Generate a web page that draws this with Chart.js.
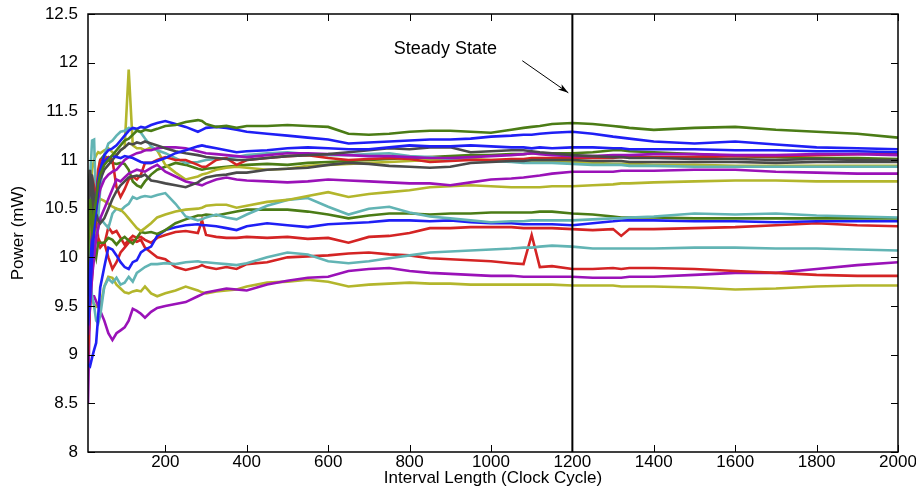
<!DOCTYPE html>
<html>
<head>
<meta charset="utf-8">
<script src="https://cdn.jsdelivr.net/npm/chart.js@4.4.1/dist/chart.umd.min.js"></script>
<style>
  html,body{margin:0;padding:0;background:#fff;}
  #wrap{width:916px;height:497px;position:relative;}
</style>
</head>
<body>
<div id="wrap"><canvas id="c" width="916" height="497"></canvas></div>
<script>
// ---- Data ----
const X = [10,15,20,25,30,35,40, 50,60,70,80,90,100,110,120,130,140,150, 165,180,200,225,250, 280,290,300, 325,350,375,400,
  450,500,550,600,650,700,750,800,850,900,950,1000,1050, 1080,1100,1120, 1150,1200,1250,1300,1320,1340,
  1400,1500,1600,1700,1800,1900,2000];

const G1 = [10.0,10.6,10.3,10.45,10.6,10.75,10.85, 10.95,11.0,11.05,11.1,11.15,11.2,11.22,11.26,11.3,11.29,11.31,
  11.3,11.32,11.35,11.36,11.39, 11.41,11.4,11.37, 11.34,11.35,11.33,11.35,
  11.35,11.36,11.35,11.34,11.27,11.26,11.27,11.29,11.30,11.30,11.29,11.28,11.31, 11.33,11.34,11.35,
  11.37,11.38,11.37,11.35,11.34,11.33, 11.31,11.33,11.34,11.31,11.29,11.27,11.23];
const B1 = [9.6,9.9,10.2,10.4,10.6,10.8,10.9, 11.05,11.1,11.12,11.15,11.2,11.25,11.3,11.33,11.32,11.34,11.33,
  11.36,11.38,11.40,11.37,11.34, 11.29,11.31,11.33, 11.34,11.33,11.31,11.29,
  11.27,11.25,11.23,11.21,11.17,11.18,11.19,11.20,11.21,11.21,11.22,11.24,11.25, 11.26,11.26,11.27,
  11.28,11.29,11.27,11.24,11.23,11.22, 11.19,11.17,11.19,11.16,11.13,11.12,11.11];
const B2 = [9.3,9.6,10.0,10.3,10.5,10.7,10.85, 10.98,11.02,11.04,11.03,11.02,11.04,11.03,11.02,11.0,10.98,10.97,
  10.97,10.99,11.02,11.07,11.10, 11.14,11.15,11.14, 11.12,11.10,11.08,11.09,
  11.10,11.12,11.13,11.12,11.11,11.11,11.13,11.15,11.14,11.14,11.15,11.14,11.13, 11.13,11.12,11.13,
  11.12,11.13,11.13,11.12,11.12,11.11, 11.11,11.11,11.10,11.10,11.09,11.09,11.08];
const DG1 = [10.2,10.9,10.6,10.3,10.5,10.7,10.8, 10.9,10.95,11.0,11.05,11.1,11.13,11.17,11.16,11.18,11.17,11.19,
  11.17,11.15,11.12,11.09,11.07, 11.05,11.04,11.03, 11.02,11.01,11.0,11.0,
  11.02,11.04,11.05,11.06,11.08,11.10,11.12,11.11,11.13,11.13,11.08,11.09,11.10, 11.10,11.09,11.08,
  11.07,11.05,11.04,11.03,11.03,11.02, 11.02,11.01,11.01,11.0,11.01,11.0,11.0];
const DG2 = [10.6,10.85,10.84,10.6,10.45,10.38,10.35, 10.4,10.5,10.6,10.68,10.74,10.78,10.82,10.83,10.84,10.83,10.85,
  10.79,10.78,10.76,10.74,10.72, 10.77,10.8,10.82, 10.84,10.85,10.87,10.87,
  10.9,10.91,10.92,10.95,10.97,10.96,10.94,10.93,10.92,10.93,10.97,10.98,10.99, 10.99,11.0,11.0,
  11.0,11.0,10.99,10.99,10.99,10.98, 10.98,10.98,10.98,10.97,10.98,10.98,10.98];
const P1 = [9.4,9.7,10.0,10.3,10.5,10.6,10.7, 10.8,10.85,10.88,10.9,10.95,11.0,11.03,11.05,11.07,11.08,11.1,
  11.1,11.12,11.13,11.13,11.12, 11.09,11.08,11.07, 11.06,11.05,11.04,11.03,
  11.05,11.07,11.07,11.06,11.05,11.04,11.04,11.03,11.02,11.02,11.03,11.04,11.05, 11.06,11.07,11.06,
  11.05,11.04,11.04,11.05,11.05,11.05, 11.06,11.06,11.05,11.05,11.06,11.06,11.05];
const P2 = [9.2,9.5,9.8,10.0,10.2,10.3,10.4, 10.5,10.6,10.7,10.8,10.78,10.82,10.86,10.88,10.9,10.89,10.88,
  10.92,10.95,10.88,10.83,10.78, 10.75,10.74,10.76, 10.8,10.82,10.8,10.79,
  10.78,10.77,10.78,10.80,10.79,10.78,10.77,10.76,10.76,10.74,10.77,10.80,10.81, 10.82,10.83,10.84,
  10.86,10.88,10.88,10.88,10.89,10.89, 10.89,10.90,10.90,10.88,10.87,10.86,10.86];
const R1 = [9.0,9.6,10.3,10.72,10.6,10.9,11.0, 11.0,11.03,11.0,10.72,10.62,10.7,10.8,10.83,10.80,10.85,10.97,
  10.97,11.0,11.03,11.0,11.0, 10.95,10.93,10.93, 11.0,11.02,10.95,11.0,
  11.02,11.04,11.05,11.02,11.0,11.01,11.02,11.01,10.98,10.99,11.0,11.0,11.01, 11.01,11.02,11.02,
  11.02,11.02,11.02,11.02,11.03,11.03, 11.03,11.03,11.04,11.04,11.05,11.06,11.07];
const C1 = [10.0,10.8,11.2,11.21,10.5,10.4,10.7, 11.05,11.17,11.2,11.25,11.29,11.3,11.33,11.32,11.31,11.28,11.22,
  11.14,11.1,11.07,11.02,10.97, 10.98,10.99,11.0, 11.01,11.02,11.03,11.05,
  11.07,11.08,11.06,11.05,11.05,11.06,11.07,11.04,11.03,11.01,11.0,10.99,10.98, 10.97,10.97,10.97,
  10.97,10.96,10.95,10.95,10.95,10.94, 10.94,10.93,10.93,10.93,10.93,10.93,10.93];
const O1 = [10.1,10.6,10.9,11.0,11.05,11.08,11.07, 11.1,11.12,11.08,11.05,11.1,11.13,11.93,11.15,11.12,11.12,11.1,
  11.13,11.1,10.95,10.87,10.8, 10.83,10.85,10.86, 10.9,10.92,10.93,10.92,
  10.90,10.91,10.94,10.95,10.96,10.97,10.98,10.99,11.0,11.0,11.01,11.0,11.0, 10.99,10.99,10.99,
  10.99,10.98,10.97,10.96,10.96,10.96, 10.95,10.95,10.94,10.94,10.94,10.94,10.94];
const G2 = [9.6,10.9,10.5,10.2,10.5,10.8,11.0, 11.05,11.0,10.97,10.96,10.97,10.96,10.9,10.78,10.74,10.72,10.78,
  10.85,10.9,10.93,10.97,10.95, 10.91,10.90,10.91, 10.92,10.93,10.94,10.95,
  10.96,10.95,10.97,10.98,10.99,11.0,11.01,11.02,11.03,11.04,11.05,11.05,11.06, 11.06,11.07,11.07,
  11.07,11.07,11.08,11.10,11.10,11.09, 11.08,11.06,11.04,11.03,11.02,11.02,11.01];
const O2 = [9.6,10.0,10.4,10.55,10.5,10.55,10.6, 10.58,10.55,10.52,10.5,10.49,10.45,10.4,10.35,10.3,10.27,10.3,
  10.35,10.41,10.44,10.47,10.49, 10.5,10.51,10.53, 10.54,10.54,10.51,10.53,
  10.57,10.59,10.63,10.67,10.62,10.65,10.67,10.69,10.72,10.73,10.74,10.73,10.72, 10.72,10.72,10.72,
  10.73,10.73,10.74,10.75,10.76,10.76, 10.77,10.78,10.79,10.79,10.78,10.78,10.78];
const C2 = [9.9,10.5,10.3,10.1,10.2,10.3,10.4, 10.35,10.3,10.45,10.5,10.48,10.52,10.55,10.62,10.6,10.62,10.63,
  10.62,10.64,10.66,10.55,10.42, 10.38,10.39,10.41, 10.44,10.41,10.39,10.44,
  10.53,10.59,10.61,10.52,10.44,10.50,10.52,10.46,10.42,10.40,10.38,10.36,10.37, 10.37,10.38,10.38,
  10.38,10.38,10.39,10.40,10.40,10.41, 10.42,10.45,10.44,10.45,10.43,10.42,10.41];
const G3 = [9.5,9.9,10.3,10.1,10.0,10.15,10.15, 10.15,10.2,10.18,10.13,10.18,10.21,10.17,10.14,10.2,10.26,10.25,
  10.26,10.24,10.28,10.35,10.39, 10.43,10.43,10.44, 10.43,10.45,10.47,10.49,
  10.49,10.49,10.47,10.44,10.40,10.43,10.45,10.45,10.44,10.45,10.45,10.46,10.46, 10.46,10.46,10.47,
  10.47,10.45,10.44,10.42,10.41,10.41, 10.41,10.40,10.40,10.40,10.40,10.40,10.40];
const B3 = [8.9,8.88,8.97,9.05,9.12,9.4,9.69, 9.9,10.1,10.08,10.02,9.95,9.9,9.88,9.95,9.97,10.05,10.08,
  10.11,10.22,10.28,10.31,10.33, 10.34,10.33,10.33, 10.32,10.3,10.28,10.32,
  10.35,10.33,10.31,10.34,10.35,10.36,10.38,10.38,10.37,10.38,10.36,10.35,10.35, 10.34,10.34,10.34,
  10.34,10.33,10.35,10.37,10.38,10.38, 10.38,10.37,10.37,10.36,10.37,10.37,10.37];
const R2 = [9.3,9.8,10.2,10.6,10.4,10.2,10.15, 10.13,10.31,10.25,10.27,10.2,10.13,10.18,10.22,10.2,10.21,10.18,
  10.15,10.2,10.23,10.26,10.27, 10.25,10.38,10.23, 10.21,10.2,10.2,10.21,
  10.2,10.21,10.19,10.2,10.15,10.21,10.22,10.25,10.3,10.3,10.31,10.31,10.31, 10.3,10.3,10.3,
  10.3,10.29,10.28,10.29,10.22,10.29, 10.29,10.30,10.31,10.33,10.35,10.33,10.32];
const C3 = [9.7,9.85,9.6,9.5,9.35,9.32,9.4, 9.7,9.78,9.74,9.79,9.72,9.74,9.8,9.75,9.84,9.87,9.9,
  9.93,9.93,9.94,9.93,9.95, 9.96,9.95,9.95, 9.94,9.93,9.92,9.94,
  10.0,10.05,10.03,9.96,9.94,9.96,9.99,10.02,10.05,10.06,10.07,10.08,10.09, 10.10,10.10,10.11,
  10.12,10.11,10.09,10.09,10.09,10.09, 10.09,10.10,10.10,10.09,10.09,10.08,10.07];
const R3 = [9.1,9.5,9.8,10.1,10.2,10.15,10.1, 10.15,10.0,9.88,9.95,10.05,10.1,10.15,10.18,10.16,10.18,10.1,
  10.05,10.0,9.98,9.9,9.87, 9.9,9.92,9.9, 9.88,9.9,9.88,9.93,
  9.95,10.0,10.01,10.02,10.04,10.05,10.03,10.02,9.99,9.98,9.97,9.96,9.94, 9.93,10.23,9.90,
  9.91,9.88,9.88,9.89,9.88,9.89, 9.89,9.88,9.86,9.84,9.82,9.81,9.81];
const P3 = [8.5,9.6,9.6,9.6,9.55,9.5,9.45, 9.35,9.22,9.15,9.22,9.25,9.28,9.35,9.47,9.45,9.42,9.38,
  9.44,9.48,9.5,9.52,9.54, 9.6,9.62,9.64, 9.66,9.68,9.67,9.66,
  9.72,9.76,9.79,9.80,9.86,9.88,9.89,9.86,9.84,9.83,9.82,9.81,9.81, 9.80,9.80,9.80,
  9.80,9.80,9.79,9.79,9.79,9.80, 9.80,9.82,9.84,9.84,9.88,9.92,9.95];
const O3 = [9.15,9.59,9.56,9.52,9.49,9.5,9.49, 9.7,9.8,9.79,9.72,9.68,9.64,9.63,9.65,9.66,9.65,9.7,
  9.63,9.6,9.63,9.66,9.7, 9.66,9.64,9.63, 9.65,9.66,9.67,9.7,
  9.74,9.75,9.77,9.75,9.7,9.72,9.73,9.74,9.73,9.73,9.72,9.72,9.72, 9.72,9.72,9.72,
  9.72,9.71,9.71,9.71,9.70,9.70, 9.70,9.69,9.67,9.68,9.70,9.71,9.71];

const X_TICKS = [200,400,600,800,1000,1200,1400,1600,1800,2000];
const Y_TICKS = [8,8.5,9,9.5,10,10.5,11,11.5,12,12.5];
const STEADY_X = 1200;
const NOTE_TEXT = 'Steady State';
const NOTE_POS = {x: 888, y: 12.14};
const ARROW_FROM = {x: 1077, y: 12.02};
const ARROW_TO = {x: 1190, y: 11.69};

// ---- Styles ----
const GREEN = '#4b7c16', BLUE = '#1f1ff5', PURPLE = '#9a12b8', RED = '#d42424',
      CYAN = '#62b4b4', OLIVE = '#b3b62c', GRAY = '#4a4a4a';
const SERIES = [
  ['G1', G1, GREEN], ['B1', B1, BLUE], ['B2', B2, BLUE], ['DG1', DG1, GRAY], ['DG2', DG2, GRAY],
  ['P1', P1, PURPLE], ['P2', P2, PURPLE], ['R1', R1, RED], ['C1', C1, CYAN], ['O1', O1, OLIVE],
  ['G2', G2, GREEN], ['O2', O2, OLIVE], ['C2', C2, CYAN], ['G3', G3, GREEN], ['B3', B3, BLUE],
  ['R2', R2, RED], ['C3', C3, CYAN], ['R3', R3, RED], ['P3', P3, PURPLE], ['O3', O3, OLIVE]
];
const FONT = '"Liberation Sans", Arial, Helvetica, sans-serif';

const datasets = SERIES.map(([name, ys, color]) => ({
  label: name,
  data: X.map((x, i) => ({x, y: ys[i]})),
  borderColor: color,
  backgroundColor: color,
  borderWidth: 2.6,
  pointRadius: 0,
  tension: 0,
  fill: false
}));

const framePlugin = {
  id: 'frame',
  afterDatasetsDraw(chart) {
    const {ctx, chartArea: {left, right, top, bottom}, scales: {x, y}} = chart;
    ctx.save();
    ctx.strokeStyle = '#000';
    // steady-state vertical line
    const vx = x.getPixelForValue(STEADY_X);
    ctx.lineWidth = 2;
    ctx.beginPath(); ctx.moveTo(vx, top); ctx.lineTo(vx, bottom); ctx.stroke();
    // frame
    ctx.lineWidth = 1.5;
    ctx.strokeRect(left, top, right - left, bottom - top);
    // inward ticks
    ctx.lineWidth = 1;
    const L = 7;
    ctx.beginPath();
    X_TICKS.forEach(v => {
      const px = Math.round(x.getPixelForValue(v)) + 0.5;
      ctx.moveTo(px, bottom); ctx.lineTo(px, bottom - L);
      ctx.moveTo(px, top); ctx.lineTo(px, top + L);
    });
    Y_TICKS.forEach(v => {
      const py = Math.round(y.getPixelForValue(v)) + 0.5;
      ctx.moveTo(left, py); ctx.lineTo(left + L, py);
      ctx.moveTo(right, py); ctx.lineTo(right - L, py);
    });
    ctx.stroke();
    // arrow
    const ax1 = x.getPixelForValue(ARROW_FROM.x), ay1 = y.getPixelForValue(ARROW_FROM.y);
    const ax2 = x.getPixelForValue(ARROW_TO.x), ay2 = y.getPixelForValue(ARROW_TO.y);
    ctx.lineWidth = 1;
    ctx.beginPath(); ctx.moveTo(ax1, ay1); ctx.lineTo(ax2, ay2); ctx.stroke();
    const ang = Math.atan2(ay2 - ay1, ax2 - ax1);
    const hl = 11, hw = 0.3;
    ctx.fillStyle = '#000';
    ctx.beginPath();
    ctx.moveTo(ax2, ay2);
    ctx.lineTo(ax2 - hl * Math.cos(ang - hw), ay2 - hl * Math.sin(ang - hw));
    ctx.lineTo(ax2 - hl * 0.7 * Math.cos(ang), ay2 - hl * 0.7 * Math.sin(ang));
    ctx.lineTo(ax2 - hl * Math.cos(ang + hw), ay2 - hl * Math.sin(ang + hw));
    ctx.closePath(); ctx.fill();
    // note text
    ctx.font = '18px ' + FONT;
    ctx.textAlign = 'center'; ctx.textBaseline = 'middle';
    ctx.fillText(NOTE_TEXT, x.getPixelForValue(NOTE_POS.x), y.getPixelForValue(NOTE_POS.y));
    ctx.restore();
  }
};

new Chart(document.getElementById('c'), {
  type: 'line',
  data: {datasets},
  options: {
    responsive: false,
    animation: false,
    events: [],
    layout: {padding: {top: 14, right: 18, left: 0, bottom: 0}},
    plugins: {legend: {display: false}, tooltip: {enabled: false}},
    scales: {
      x: {
        type: 'linear', min: 10, max: 2000,
        afterBuildTicks: s => { s.ticks = X_TICKS.map(v => ({value: v})); },
        afterFit: s => { s.height = 45; s.paddingLeft = 0; s.paddingRight = 0; },
        grid: {display: false, drawTicks: false},
        border: {display: false},
        ticks: {color: '#000', font: {family: FONT, size: 17}, padding: 0, maxRotation: 0, autoSkip: false,
                callback: v => String(v)},
        title: {display: true, text: 'Interval Length (Clock Cycle)', color: '#000',
                font: {family: FONT, size: 17}, padding: {top: 0, bottom: 8}}
      },
      y: {
        type: 'linear', min: 8, max: 12.5,
        afterBuildTicks: s => { s.ticks = Y_TICKS.map(v => ({value: v})); },
        afterFit: s => { s.width = 88; s.paddingTop = 0; s.paddingBottom = 0; },
        grid: {display: false, drawTicks: false},
        border: {display: false},
        ticks: {color: '#000', font: {family: FONT, size: 17}, padding: 10, callback: v => String(v)},
        title: {display: true, text: 'Power (mW)', color: '#000',
                font: {family: FONT, size: 17}, padding: {top: 8, bottom: 8}}
      }
    }
  },
  plugins: [framePlugin]
});
</script>
</body>
</html>
